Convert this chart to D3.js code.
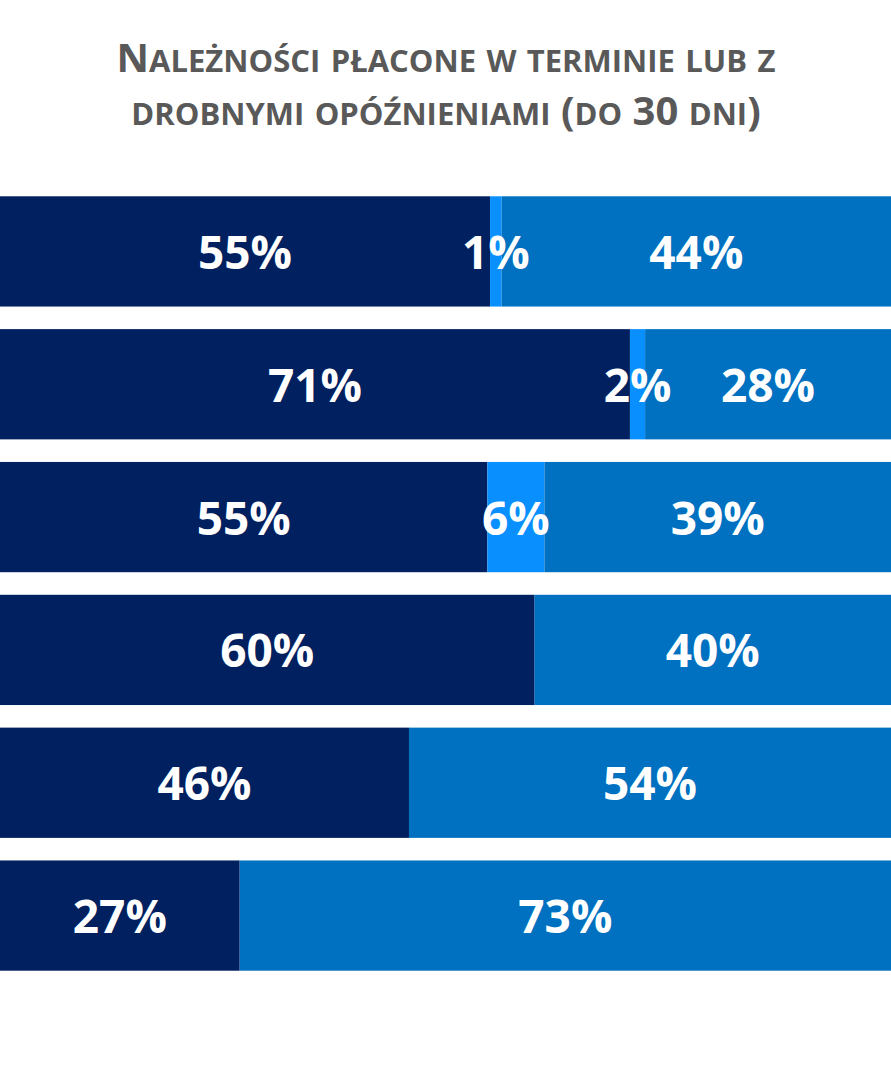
<!DOCTYPE html>
<html>
<head>
<meta charset="utf-8">
<script src="https://cdn.jsdelivr.net/npm/d3@7"></script>
<style>
  body { margin: 0; background: #fff; }
  svg text { font-family: "Open Sans", sans-serif; font-weight: 700; }
</style>
</head>
<body>
<svg id="chart" width="891" height="1076"></svg>
<script>
// rows top to bottom, share in percent
var rows = ['r1', 'r2', 'r3', 'r4', 'r5', 'r6'];
var onTime = [55.0, 70.7, 54.7, 60.0, 45.9, 26.9];
var middle = [1.3, 1.7, 6.4, 0, 0, 0];
var late = [43.7, 27.6, 38.9, 40.0, 54.1, 73.1];
var seriesKeys = ['onTime', 'middle', 'late'];
var colors = ['#00205F', '#0A8FFF', '#0070C0'];
var titleLines = ['Należności płacone w terminie lub z', 'drobnymi opóźnieniami (do 30 dni)'];

var table = rows.map(function(r, i) {
  return {row: r, onTime: onTime[i], middle: middle[i], late: late[i]};
});

var svg = d3.select('#chart');
var width = 891;

var x = d3.scaleLinear().domain([0, 100]).range([0, width]);
var y = d3.scaleBand().domain(rows).range([185, 982]).paddingInner(0.17).paddingOuter(0.085);

var stacked = d3.stack().keys(seriesKeys)(table);

var color = d3.scaleOrdinal().domain(seriesKeys).range(colors);

// title, small caps done by hand: lowercase runs become smaller capitals
var bigSize = 40, smallSize = 31;
function runs(s) {
  var out = [];
  s.split('').forEach(function(ch) {
    var small = ch !== ch.toUpperCase();
    var last = out[out.length - 1];
    if (last && last.small === small) last.t += ch;
    else out.push({t: ch, small: small});
  });
  return out;
}

var title = svg.append('g').selectAll('text').data(titleLines)
  .enter().append('text')
  .attr('x', 446)
  .attr('y', function(d, i) { return 72 + i * 53; })
  .attr('text-anchor', 'middle')
  .style('fill', '#595959');

title.selectAll('tspan').data(function(d) { return runs(d); })
  .enter().append('tspan')
  .style('font-size', function(d) { return (d.small ? smallSize : bigSize) + 'px'; })
  .text(function(d) { return d.t.toUpperCase(); });

var groups = svg.append('g').selectAll('g').data(stacked)
  .enter().append('g')
  .style('fill', function(d) { return color(d.key); });

groups.selectAll('rect').data(function(d) { return d; })
  .enter().append('rect')
  .attr('x', function(d) { return x(d[0]); })
  .attr('width', function(d) { return x(d[1]) - x(d[0]); })
  .attr('y', function(d) { return y(d.data.row); })
  .attr('height', y.bandwidth());

// labels after every bar so the thin segments' labels stay on top
var labels = [];
stacked.forEach(function(s) {
  s.forEach(function(p) { if (p[1] - p[0] > 0) labels.push(p); });
});

svg.append('g').selectAll('text').data(labels)
  .enter().append('text')
  .attr('x', function(d) { return x((d[0] + d[1]) / 2); })
  .attr('y', function(d) { return y(d.data.row) + y.bandwidth() / 2; })
  .attr('dy', '0.38em')
  .attr('text-anchor', 'middle')
  .style('fill', '#fff')
  .style('font-size', '46px')
  .text(function(d) { return Math.round(d[1] - d[0]) + '%'; });
</script>
</body>
</html>
